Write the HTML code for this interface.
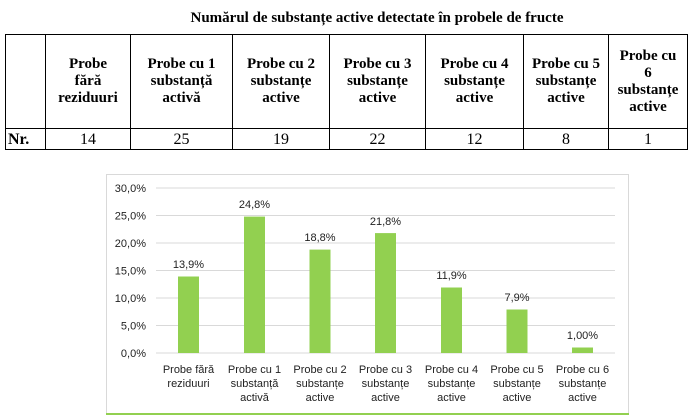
<!DOCTYPE html>
<html><head><style>
body{margin:0;background:#fff;width:694px;height:420px;overflow:hidden;position:relative;font-family:"Liberation Serif",serif}
.title{position:absolute;top:10px;left:0;width:694px;text-align:center;font-weight:bold;font-size:15px;padding-left:60px;box-sizing:border-box}
table{position:absolute;top:34px;left:5px;border-collapse:collapse}
td{border:1.5px solid #000;text-align:center;font-size:15px;padding:0;line-height:17px}
tr.h td{height:93px;font-weight:bold}
tr.n td{height:20px;font-size:16px}
</style></head><body>
<div class="title">Numărul de substanțe active detectate în probele de fructe</div>
<table>
<tr class="h"><td style="width:39px"></td><td style="width:84px">Probe<br>fără<br>reziduuri</td><td style="width:101px">Probe cu 1<br>substanță<br>activă</td><td style="width:96px">Probe cu 2<br>substanțe<br>active</td><td style="width:95px">Probe cu 3<br>substanțe<br>active</td><td style="width:97px">Probe cu 4<br>substanțe<br>active</td><td style="width:84px">Probe cu 5<br>substanțe<br>active</td><td style="width:78px">Probe cu<br>6<br>substanțe<br>active</td></tr>
<tr class="n"><td style="font-weight:bold;text-align:left;padding-left:2px">Nr.</td><td>14</td><td>25</td><td>19</td><td>22</td><td>12</td><td>8</td><td>1</td></tr>
</table>
<svg style="position:absolute;left:0;top:0" width="694" height="420" font-family="Liberation Sans, sans-serif" font-size="11" fill="#222">
<rect x="106.5" y="174.5" width="522" height="240" fill="#fff" stroke="#d9d9d9"/>
<line x1="106" y1="414" x2="629" y2="414" stroke="#92d050" stroke-width="2"/>
<g stroke="#d9d9d9">
<line x1="156" y1="188" x2="615" y2="188"/><line x1="156" y1="215.5" x2="615" y2="215.5"/><line x1="156" y1="243" x2="615" y2="243"/><line x1="156" y1="270.5" x2="615" y2="270.5"/><line x1="156" y1="298" x2="615" y2="298"/><line x1="156" y1="325.5" x2="615" y2="325.5"/><line x1="156" y1="353" x2="615" y2="353"/>
</g>
<g text-anchor="end">
<text x="146" y="192">30,0%</text><text x="146" y="219.5">25,0%</text><text x="146" y="247">20,0%</text><text x="146" y="274.5">15,0%</text><text x="146" y="302">10,0%</text><text x="146" y="329.5">5,0%</text><text x="146" y="357">0,0%</text>
</g>
<g fill="#92d050">
<rect x="178" y="276.5" width="21" height="76.5"/><rect x="244" y="216.6" width="21" height="136.4"/><rect x="309.5" y="249.6" width="21" height="103.4"/><rect x="375" y="233.1" width="21" height="119.9"/><rect x="441" y="287.5" width="21" height="65.5"/><rect x="506.5" y="309.5" width="21" height="43.5"/><rect x="572" y="347.5" width="21" height="5.5"/>
</g>
<g text-anchor="middle">
<text x="188.5" y="268">13,9%</text><text x="254.5" y="208">24,8%</text><text x="320" y="241">18,8%</text><text x="385.5" y="225">21,8%</text><text x="451.5" y="279">11,9%</text><text x="517" y="301">7,9%</text><text x="582.5" y="339">1,00%</text>
<text x="188.5" y="373">Probe fără</text><text x="188.5" y="387">reziduuri</text>
<text x="254.5" y="373">Probe cu 1</text><text x="254.5" y="387">substanță</text><text x="254.5" y="401">activă</text>
<text x="320" y="373">Probe cu 2</text><text x="320" y="387">substanțe</text><text x="320" y="401">active</text>
<text x="385.5" y="373">Probe cu 3</text><text x="385.5" y="387">substanțe</text><text x="385.5" y="401">active</text>
<text x="451.5" y="373">Probe cu 4</text><text x="451.5" y="387">substanțe</text><text x="451.5" y="401">active</text>
<text x="517" y="373">Probe cu 5</text><text x="517" y="387">substanțe</text><text x="517" y="401">active</text>
<text x="582.5" y="373">Probe cu 6</text><text x="582.5" y="387">substanțe</text><text x="582.5" y="401">active</text>
</g>
</svg>
</body></html>
